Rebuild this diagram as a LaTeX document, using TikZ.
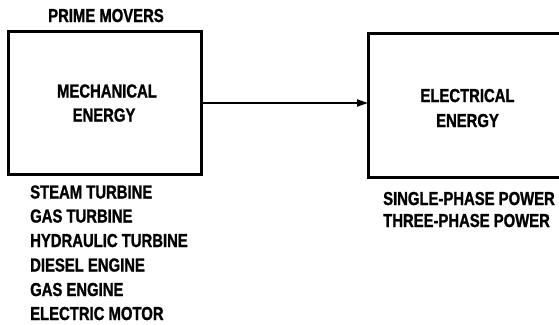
\documentclass[tikz,border=0pt]{standalone}
\usepackage{fontspec}
\newfontfamily\lblfont{Liberation Sans}[FakeStretch=0.79, BoldFeatures={FakeBold=1.2}]
\usetikzlibrary{arrows.meta}
\tikzset{
  box/.style={draw=black, line width=3pt},
  lbl/.style={font=\lblfont\bfseries\fontsize{18.8}{21}\selectfont, inner sep=0pt, text=black},
  conn/.style={draw=black, line width=1.8pt, -{Triangle[length=11pt,width=7pt]}}
}
\begin{document}
\begin{tikzpicture}[x=1pt,y=-1pt]
\useasboundingbox (0,0) rectangle (559,324);
\begin{scope}
\clip (0,0) rectangle (559,324);
\draw[box] (8,31) rectangle (201,174);
\draw[box] (368,33) rectangle (575,177);
\coordinate (mechR) at (201,103);
\coordinate (elecL) at (368,103);
\draw[conn] (mechR) -- (elecL);
\end{scope}
\node[lbl, anchor=base] (pm) at (106,22) {PRIME MOVERS};
\node[lbl, anchor=base] (m1) at (107,97.5) {MECHANICAL};
\node[lbl, anchor=base] (m2) at (104,121.5) {ENERGY};
\node[lbl, anchor=base] (e1) at (467.5,102) {ELECTRICAL};
\node[lbl, anchor=base] (e2) at (467.5,127) {ENERGY};
\node[lbl, anchor=base west] (s1) at (383,205) {SINGLE-PHASE POWER};
\node[lbl, anchor=base west] (s2) at (383,227) {THREE-PHASE POWER};
\node[lbl, anchor=base west] (l1) at (30,198.5) {STEAM TURBINE};
\node[lbl, anchor=base west] (l2) at (30,222.5) {GAS TURBINE};
\node[lbl, anchor=base west] (l3) at (30,247) {HYDRAULIC TURBINE};
\node[lbl, anchor=base west] (l4) at (30,271.5) {DIESEL ENGINE};
\node[lbl, anchor=base west] (l5) at (30,296) {GAS ENGINE};
\node[lbl, anchor=base west] (l6) at (30,320) {ELECTRIC MOTOR};
\end{tikzpicture}
\end{document}
